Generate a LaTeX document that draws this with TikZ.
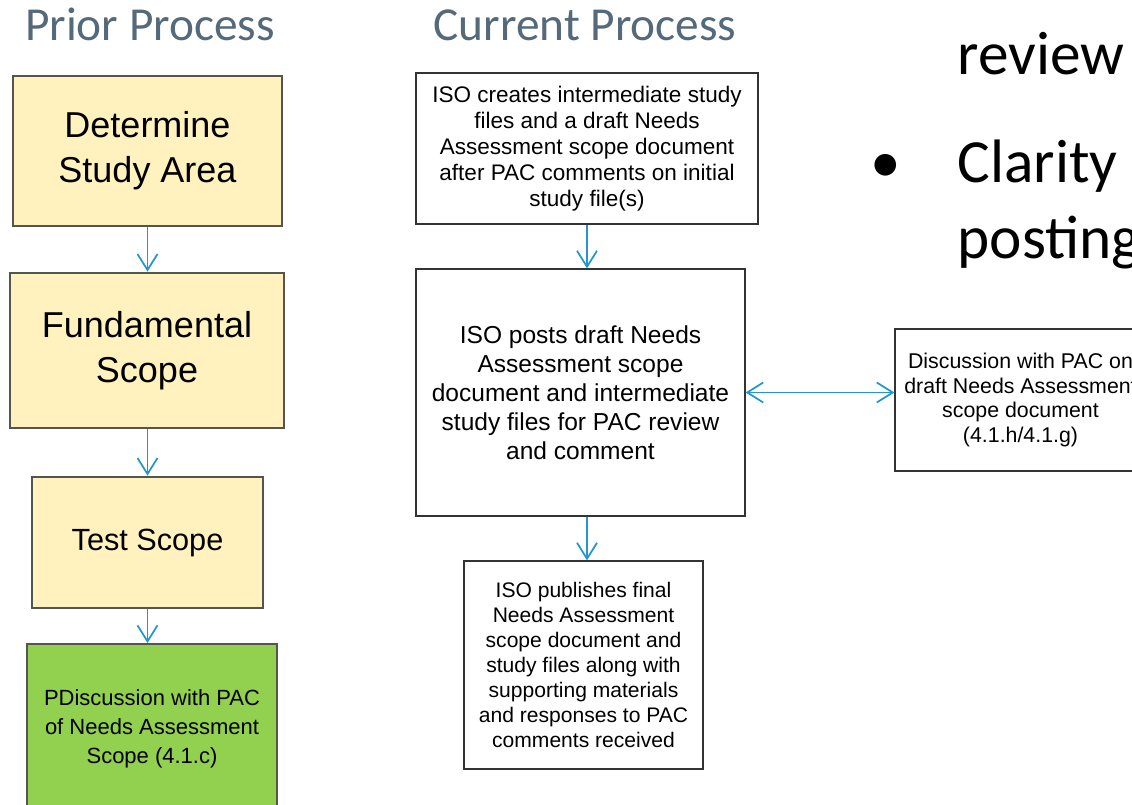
\documentclass[tikz,border=0pt]{standalone}
\usepackage{fontspec}
\setmainfont{Liberation Sans}
\newfontfamily\slidefont{Carlito}
\usepackage{tikz}
\usepackage{xcolor}
\usetikzlibrary{
    arrows.meta,
    calc,
    positioning
}
\definecolor{titlegray}{RGB}{84,105,122}
\definecolor{flowblue}{RGB}{35,150,210}
\definecolor{paleyellow}{RGB}{255,242,190}
\definecolor{leafgreen}{RGB}{146,208,80}
\definecolor{edgegray}{RGB}{85,85,80}

\begin{document}
\begin{tikzpicture}[x=0.75pt, y=-0.75pt,
        >={Straight Barb[length=12pt, width=15pt]},
        oldbox/.style={draw=edgegray, line width=2pt, fill=paleyellow, align=center, inner sep=0pt},
        newbox/.style={draw=black!80, line width=0.9pt, fill=white, align=center, inner sep=0pt},
        flow/.style={draw=flowblue, line width=1.3pt},
        slide/.style={anchor=base west, font=\slidefont\fontsize{46}{57}\selectfont}]
        \useasboundingbox (0, 0) rectangle (1132, 805);
        % titles
        \node[font=\slidefont\fontsize{35.5}{40}\selectfont, text=titlegray, anchor=base] (prior) at (150, 41) {Prior Process};
        \node[font=\slidefont\fontsize{35.5}{40}\selectfont, text=titlegray, anchor=base] (current) at (585, 41) {Current Process};
        % prior process
        \node[oldbox, minimum width=201.75pt, minimum height=112.5pt, font=\fontsize{27}{33.75}\selectfont] (area) at (147.5, 151) {Determine\\Study Area};
        \node[oldbox, minimum width=205.5pt, minimum height=116.25pt, font=\fontsize{27}{33.75}\selectfont] (fund) at (147, 350.5) {Fundamental\\Scope};
        \node[oldbox, minimum width=173.25pt, minimum height=98.25pt, font=\fontsize{23}{28}\selectfont] (test) at (147.5, 542.5) {Test Scope};
        \node[oldbox, fill=leafgreen, line width=1.5pt, minimum width=187.5pt, minimum height=127.5pt, font=\fontsize{16.5}{21.75}\selectfont] (pacold) at (152, 729) {PDiscussion with PAC\\of Needs Assessment\\Scope (4.1.c)};
        % current process
        \node[newbox, minimum width=256.5pt, minimum height=113.25pt, font=\fontsize{16.9}{19.4}\selectfont] (create) at (587, 148.5) {ISO creates intermediate study\\files and a draft Needs\\Assessment scope document\\after PAC comments on initial\\study file(s)};
        \node[newbox, minimum width=246.75pt, minimum height=185.25pt, font=\fontsize{18.4}{21.75}\selectfont] (post) at (580.5, 392.5) {ISO posts draft Needs\\Assessment scope\\document and intermediate\\study files for PAC review\\and comment};
        \node[newbox, minimum width=179.25pt, minimum height=156pt, font=\fontsize{15.8}{18.75}\selectfont] (publish) at (583.5, 665) {ISO publishes final\\Needs Assessment\\scope document and\\study files along with\\supporting materials\\and responses to PAC\\comments received};
        \node[newbox, minimum width=188.25pt, minimum height=106.5pt, font=\fontsize{16}{18.4}\selectfont] (discuss) at (1020.5, 400) {Discussion with PAC on\\draft Needs Assessment\\scope document\\(4.1.h/4.1.g)};
        % slide text
        \node[slide] (review) at (953, 75) {review};
        \node[slide] (clarity) at (953, 183) {Clarity};
        \node[slide] (posting) at (953, 259) {posting};
        \node[font=\slidefont\fontsize{46}{57}\selectfont, anchor=base] (dot) at (886, 183) {\textbullet};
        % arrows
        \draw[flow, ->] (area.south) -- (area.south |- fund.north);
        \draw[flow, ->] (area.south |- fund.south) -- (area.south |- test.north);
        \draw[flow, ->] (area.south |- test.south) -- (area.south |- pacold.north);
        \draw[flow, ->] (create.south) -- (create.south |- post.north);
        \draw[flow, ->] (create.south |- post.south) -- (create.south |- publish.north);
        \draw[flow, <->] (post.east) -- (post.east -| discuss.west);
    \end{tikzpicture}
\end{document}
